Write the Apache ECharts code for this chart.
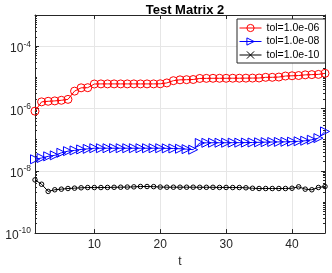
<!DOCTYPE html>
<html><head><meta charset="utf-8">
<script src="https://cdn.jsdelivr.net/npm/echarts@6/dist/echarts.min.js"></script>
<style>html,body{margin:0;padding:0;background:#fff}#c{width:332px;height:273px}</style>
</head><body><div id="c"></div>
<script>
var titleText = 'Test Matrix 2';
var xName = 't';
var seriesNames = ['tol=1.0e-06', 'tol=1.0e-08', 'tol=1.0e-10'];
var tValues = [1, 2, 3, 4, 5, 6, 7, 8, 9, 10, 11, 12, 13, 14, 15, 16, 17, 18, 19, 20,
  21, 22, 23, 24, 25, 26, 27, 28, 29, 30, 31, 32, 33, 34, 35, 36, 37, 38, 39, 40,
  41, 42, 43, 44, 45];

var tol06 = [8.2e-7, 1.63e-6, 1.70e-6, 1.75e-6, 1.83e-6, 1.96e-6, 3.6e-6, 4.6e-6, 4.65e-6, 6.1e-6,
  6.15e-6, 6.15e-6, 6.15e-6, 6.15e-6, 6.15e-6, 6.15e-6, 6.15e-6, 6.15e-6, 6.15e-6, 6.2e-6,
  6.6e-6, 7.8e-6, 8.3e-6, 8.4e-6, 8.5e-6, 9.2e-6, 9.25e-6, 9.3e-6, 9.3e-6, 9.3e-6,
  9.35e-6, 9.35e-6, 9.4e-6, 9.45e-6, 9.5e-6, 1.0e-5, 1.0e-5, 1.02e-5, 1.1e-5, 1.12e-5,
  1.14e-5, 1.2e-5, 1.22e-5, 1.24e-5, 1.34e-5];
var tol08 = [2.34e-8, 2.57e-8, 2.91e-8, 3.13e-8, 3.78e-8, 4.27e-8, 4.5e-8, 4.84e-8, 5.05e-8, 5.3e-8,
  5.3e-8, 5.3e-8, 5.3e-8, 5.3e-8, 5.3e-8, 5.3e-8, 5.3e-8, 5.3e-8, 5.3e-8, 5.3e-8,
  5.25e-8, 5.2e-8, 5.1e-8, 4.95e-8, 4.75e-8, 7.8e-8, 7.9e-8, 7.95e-8, 7.95e-8, 7.95e-8,
  8.0e-8, 8.0e-8, 8.05e-8, 8.1e-8, 8.2e-8, 8.3e-8, 8.4e-8, 8.45e-8, 8.5e-8, 8.6e-8,
  8.85e-8, 9.2e-8, 9.9e-8, 1.12e-7, 1.83e-7];
var tol10 = [5.1e-9, 3.7e-9, 2.18e-9, 2.46e-9, 2.57e-9, 2.7e-9, 2.77e-9, 2.85e-9, 2.9e-9, 2.9e-9,
  2.9e-9, 2.92e-9, 2.95e-9, 2.97e-9, 3.0e-9, 3.05e-9, 3.13e-9, 3.13e-9, 3.1e-9, 3.0e-9,
  2.97e-9, 2.97e-9, 2.97e-9, 2.97e-9, 2.97e-9, 2.95e-9, 2.95e-9, 2.95e-9, 2.92e-9, 2.92e-9,
  2.9e-9, 2.9e-9, 2.85e-9, 2.75e-9, 2.7e-9, 2.7e-9, 2.7e-9, 2.7e-9, 2.7e-9, 2.75e-9,
  3.06e-9, 2.57e-9, 2.46e-9, 2.91e-9, 3.13e-9];
var yMin = 1e-10, yMax = 1e-3;
var xMin = 1, xMax = 45;

function pairs(arr) { return arr.map(function (v, i) { return [tValues[i], v]; }); }

var axisColor = '#262626';
var gridColor = '#e6e6e6';

function yLabel(v) {
  var e = Math.log10(v);
  var r = Math.round(e);
  if (Math.abs(e - r) > 1e-6 || r % 2 !== 0 || r === -3) return '';
  return '{b|10}{s|' + r + '}';
}
function xLabel(v) {
  return (v % 10 === 0) ? String(v) : '';
}

var yBase = {
  type: 'log', logBase: 10, min: yMin, max: yMax, interval: 2,
  axisLine: { show: true, lineStyle: { color: axisColor, width: 1 } },
  axisTick: { show: true, inside: true, length: 4, lineStyle: { color: axisColor } },
  minorTick: { show: false },
  splitLine: { show: false }
};
var yMinor = {
  type: 'log', logBase: 10, min: yMin, max: yMax, interval: 1,
  axisLine: { show: false },
  axisLabel: { show: false },
  axisTick: { show: true, inside: true, length: 2, lineStyle: { color: axisColor } },
  minorTick: { show: true, splitNumber: 9, length: 2, lineStyle: { color: axisColor } },
  splitLine: { show: false }
};
var xBase = {
  type: 'value', min: xMin, max: xMax,
  axisLine: { show: true, onZero: false, lineStyle: { color: axisColor, width: 1 } },
  axisTick: { show: true, inside: true, length: 4, lineStyle: { color: axisColor } },
  splitLine: { show: false }
};

var chart = echarts.init(document.getElementById('c'), null, { renderer: 'canvas' });
chart.setOption({
  animation: false,
  backgroundColor: '#fff',
  title: {
    text: titleText, left: 180, textAlign: 'center', top: -1,
    textStyle: { fontFamily: 'Liberation Sans', fontWeight: 'bold', fontSize: 13, color: '#000' }
  },
  grid: { left: 35, right: 7, top: 15, bottom: 36, containLabel: false },
  legend: {
    orient: 'vertical', left: 237, top: 19,
    padding: [3, 6, 2, 2], itemGap: 1.5, itemWidth: 22, itemHeight: 9,
    backgroundColor: '#fff', borderColor: '#262626', borderWidth: 1,
    lineStyle: { width: 1 },
    itemStyle: { borderWidth: 1 },
    textStyle: { fontFamily: 'Liberation Sans', fontSize: 10.5, color: '#000', lineHeight: 12 },
    data: seriesNames
  },
  xAxis: [
    Object.assign({}, xBase, {
      position: 'bottom',
      name: xName, nameLocation: 'middle', nameGap: 22,
      nameTextStyle: { fontFamily: 'Liberation Sans', fontSize: 12, color: '#262626' },
      axisLabel: { show: true, formatter: xLabel, margin: 6, showMinLabel: false, showMaxLabel: false,
        fontFamily: 'Liberation Sans', fontSize: 12, color: '#262626' },
      splitLine: { show: true, lineStyle: { color: gridColor, width: 1 } }
    }),
    Object.assign({}, xBase, { position: 'top', axisLabel: { show: false } })
  ],
  yAxis: [
    Object.assign({}, yBase, {
      position: 'left',
      axisLabel: {
        show: true, formatter: yLabel, margin: 4, showMaxLabel: false,
        color: '#262626',
        rich: {
          b: { fontFamily: 'Liberation Sans', fontSize: 12, color: '#262626', padding: [6, 0, 0, 0] },
          s: { fontFamily: 'Liberation Sans', fontSize: 8.5, color: '#262626', padding: [0, 0, 4, 0] }
        }
      },
      splitLine: { show: true, lineStyle: { color: gridColor, width: 1 } }
    }),
    Object.assign({}, yBase, { position: 'right', axisLabel: { show: false } }),
    Object.assign({}, yMinor, { position: 'left' }),
    Object.assign({}, yMinor, { position: 'right' })
  ],
  series: [
    {
      name: seriesNames[0], type: 'line', data: pairs(tol06),
      symbol: 'circle', symbolSize: 8,
      lineStyle: { color: '#ff0000', width: 1 },
      itemStyle: { color: 'rgba(255,255,255,0)', borderColor: '#ff0000', borderWidth: 1 },
      emphasis: { disabled: true }
    },
    {
      name: seriesNames[1], type: 'line', data: pairs(tol08),
      symbol: 'triangle', symbolSize: 9, symbolRotate: -90,
      lineStyle: { color: '#0000ff', width: 1 },
      itemStyle: { color: 'rgba(255,255,255,0)', borderColor: '#0000ff', borderWidth: 1 },
      emphasis: { disabled: true }
    },
    {
      name: seriesNames[2], type: 'line', data: [],
      symbol: 'path://M0,0L10,10M10,0L0,10', symbolSize: 5,
      lineStyle: { color: '#000', width: 1 },
      itemStyle: { color: 'rgba(0,0,0,0)', borderColor: '#000', borderWidth: 1 },
      emphasis: { disabled: true }
    },
    {
      name: seriesNames[2], type: 'line', data: pairs(tol10),
      symbol: 'circle', symbolSize: 4.5,
      lineStyle: { color: '#000', width: 1 },
      itemStyle: { color: 'rgba(0,0,0,0)', borderColor: '#000', borderWidth: 1 },
      emphasis: { disabled: true }
    }
  ]
});
</script></body></html>
